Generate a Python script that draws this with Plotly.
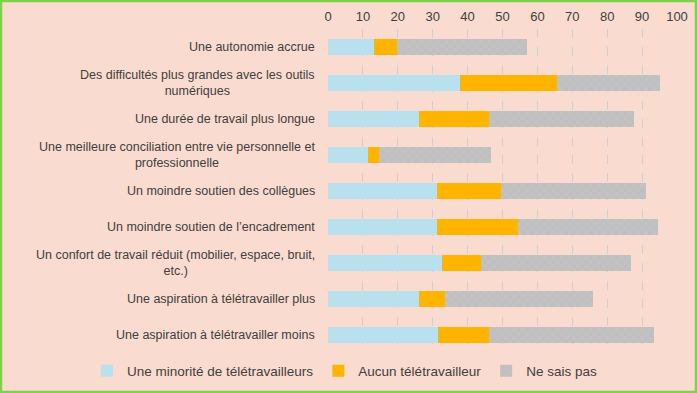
import plotly.graph_objects as go

categories = [
    "Une autonomie accrue",
    "Des difficultés plus grandes avec les outils<br>numériques",
    "Une durée de travail plus longue",
    "Une meilleure conciliation entre vie personnelle et<br>professionnelle",
    "Un moindre soutien des collègues",
    "Un moindre soutien de l’encadrement",
    "Un confort de travail réduit (mobilier, espace, bruit,<br>etc.)",
    "Une aspiration à télétravailler plus",
    "Une aspiration à télétravailler moins",
]
minorite = [13.1, 37.8, 26.1, 11.6, 31.3, 31.3, 32.6, 26.1, 31.4]
aucun = [6.8, 27.8, 20.1, 3.0, 18.3, 23.0, 11.2, 7.5, 14.7]
ne_sais_pas = [37.2, 29.5, 41.6, 32.2, 41.6, 40.2, 43.1, 42.3, 47.4]
series_names = ["Une minorité de télétravailleurs", "Aucun télétravailleur", "Ne sais pas"]
x_ticks = [0, 10, 20, 30, 40, 50, 60, 70, 80, 90, 100]

ids = list(range(len(categories)))
colors = ["#b9e0ee", "#ffb400", "#c2c2c2"]

L, R, T, B = 328, 20, 29, 40
PW, PH = 697 - L - R, 393 - T - B

fig = go.Figure()
for k, (name, vals, col) in enumerate(zip(series_names, [minorite, aucun, ne_sais_pas], colors)):
    marker = dict(color=col, line=dict(width=0))
    if k == 2:
        marker["pattern"] = dict(shape="x", bgcolor=col, fgcolor="#a9a9a9",
                                 size=6, solidity=0.15)
    fig.add_trace(go.Bar(y=ids, x=vals, name=name, orientation="h", marker=marker))

for i, c in zip(ids, categories):
    fig.add_annotation(
        x=0, xref="paper", y=i, yref="y", text=c, showarrow=False,
        xanchor="right", yanchor="middle", align="center", xshift=-11,
        font=dict(family="Liberation Sans, Arial", size=12.5, color="#404040"),
    )

fig.update_layout(
    width=697, height=393,
    barmode="stack", bargap=0.58,
    paper_bgcolor="#fadbcf", plot_bgcolor="#fadbcf",
    margin=dict(l=L, r=R, t=T, b=B, autoexpand=False),
    font=dict(family="Liberation Sans, Arial", size=12.5, color="#404040"),
    xaxis=dict(
        side="top", range=[0, 100], tickvals=x_ticks, ticks="",
        showgrid=True, gridcolor="#cfcfd6", griddash="dash", gridwidth=1,
        zeroline=False, showline=False, ticklabelstandoff=4,
        tickfont=dict(size=13, color="#404040"),
    ),
    yaxis=dict(
        autorange="reversed", showticklabels=False, ticks="",
        showgrid=False, zeroline=False, showline=False,
    ),
    legend=dict(
        orientation="h", xref="paper", yref="paper",
        x=(87 - L) / PW, xanchor="left", y=-(371 - (T + PH)) / PH, yanchor="middle",
        font=dict(family="Liberation Sans, Arial", size=13.5, color="#404040"),
        traceorder="normal", itemwidth=30, bgcolor="rgba(0,0,0,0)",
    ),
    showlegend=True,
    shapes=[dict(type="rect", xref="paper", yref="paper",
                 x0=-(L - 1) / PW, x1=1 + (R - 1) / PW, y0=-(B - 1) / PH, y1=1 + (T - 1) / PH,
                 line=dict(color="#7fd04a", width=2.5), fillcolor="rgba(0,0,0,0)")],
)

fig.write_html("out.html", config={"displayModeBar": False},
               post_script="document.body.style.margin='0';document.body.style.padding='0';")
